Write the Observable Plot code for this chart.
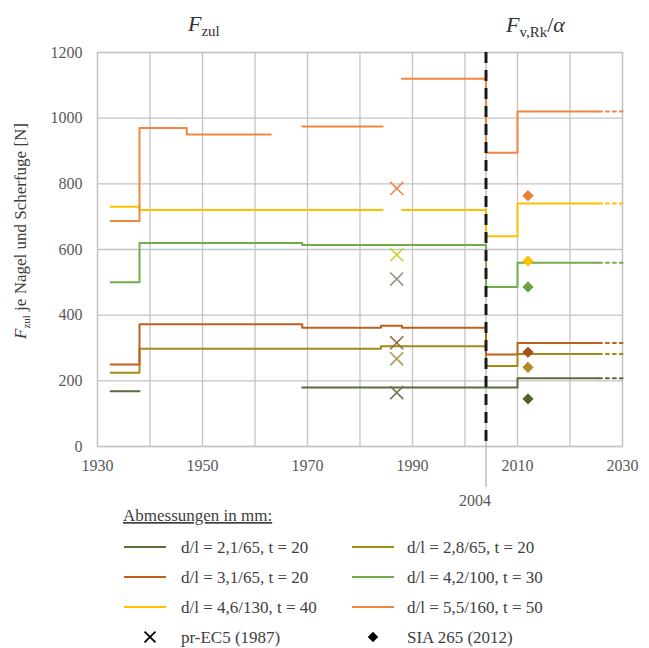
<!DOCTYPE html>
<html><head><meta charset="utf-8">
<script src="https://cdn.jsdelivr.net/npm/d3@7"></script>
<script src="https://cdn.jsdelivr.net/npm/@observablehq/plot@0.6"></script>
<style>
body{margin:0;background:#fff;}
#c{position:relative;width:649px;height:648px;}
#c svg{position:absolute;left:0;}
#c svg, #c svg text{font-family:"Liberation Serif","Times New Roman",Tinos,"DejaVu Serif",serif !important;}
</style>
</head><body><div id="c"></div>
<script>
// ---- data ----
const seriesLabels = ["d/l = 2,1/65, t = 20","d/l = 2,8/65, t = 20","d/l = 3,1/65, t = 20","d/l = 4,2/100, t = 30","d/l = 4,6/130, t = 40","d/l = 5,5/160, t = 50"];
const lineColors = ["#5a6b3c","#a48b12","#c0601e","#72ad48","#ffc000","#f28640"];
// step breakpoints [year, value] (null = gap)
const steps21 = [[1932.5,168],[1938,168],null,[1969,180],[2010,208],[2025.5,208]];
const steps28 = [[1932.5,225],[1938,298],[1984,305],[2004,245],[2010,282],[2025.5,282]];
const steps31 = [[1932.5,250],[1938,372],[1969,362],[1984,368],[1988,362],[2004,280],[2010,315],[2025.5,315]];
const steps42 = [[1932.5,500],[1938,620],[1969,614],[2004,486],[2010,560],[2025.5,560]];
const steps46 = [[1932.5,730],[1938,720],[1984.3,720],null,[1988,720],[2004,640],[2010,740],[2025.5,740]];
const steps55 = [[1932.5,687],[1938,970],[1947,950],[1963,950],null,[1969,975],[1984.3,975],null,[1988,1120],[2004,895],[2010,1020],[2025.5,1020]];
const extendTo = 2030;
const ec5Year = 1987;
const ec5Values = [164, 267, 316, 510, 584, 786];
const ec5Colors = ["#6b7a58","#aa9a52","#8e6642","#8e9a7a","#c8d22c","#f08552"];
const siaYear = 2012;
const siaValues = [145, 241, 287, 486, 565, 764];
const siaColors = ["#4f6230","#b38a22","#a8501a","#6ea044","#ffc000","#f07c30"];
const xTickLabels = [1930,1950,1970,1990,2010,2030];
const xGrid = [1930,1940,1950,1960,1970,1980,1990,2000,2010,2020,2030];
const yTicks = [0,200,400,600,800,1000,1200];
const changeYear = 2004;

// ---- build tables ----
const stepsList = [steps21, steps28, steps31, steps42, steps46, steps55];
const rows = [], ext = [];
stepsList.forEach((pts, i) => {
  pts.forEach(p => rows.push({s: i, year: p ? p[0] : NaN, value: p ? p[1] : NaN}));
  const last = pts[pts.length - 1];
  ext.push({s: i, year: last[0], value: last[1]}, {s: i, year: extendTo, value: last[1]});
});
const ec5 = ec5Values.map((v, i) => ({s: i, year: ec5Year, value: v, c: ec5Colors[i]}));
const sia = siaValues.map((v, i) => ({s: i, year: siaYear, value: v, c: siaColors[i]}));

const serif = '"Liberation Serif", "Times New Roman", Tinos, "DejaVu Serif", serif';
const gridColor = "#c4c4c4";
const chart = Plot.plot({
  width: 649, height: 515,
  marginLeft: 97, marginRight: 27, marginTop: 52, marginBottom: 69,
  style: {fontFamily: serif, fontSize: "16px", background: "#fff"},
  x: {domain: [1930, 2030]},
  y: {domain: [0, 1200]},
  marks: [
    Plot.gridX(xGrid, {stroke: gridColor, strokeOpacity: 1, strokeWidth: 1.3}),
    Plot.gridY(yTicks, {stroke: gridColor, strokeOpacity: 1, strokeWidth: 1.3}),
    Plot.frame({stroke: gridColor, strokeWidth: 1.3}),
    Plot.axisX(xTickLabels, {tickSize: 0, tickPadding: 13, tickFormat: d => String(d), fill: "#595959", fontSize: 16, label: null}),
    Plot.axisY(yTicks, {tickSize: 0, tickPadding: 15, tickFormat: d => String(d), fill: "#595959", fontSize: 16, label: null}),
    Plot.ruleX([changeYear], {stroke: "#a0a0a0", strokeWidth: 1, insetBottom: -41}),
    Plot.line(rows, {x: "year", y: "value", z: "s", stroke: d => lineColors[d.s], curve: "step-after", strokeWidth: 2}),
    Plot.line(ext, {x: "year", y: "value", z: "s", stroke: d => lineColors[d.s], strokeWidth: 2, strokeDasharray: "3,4"}),
    Plot.ruleX([changeYear], {stroke: "#1a1a1a", strokeWidth: 3, strokeDasharray: "11,7"}),
    Plot.dot(ec5, {x: "year", y: "value", symbol: "times", r: 6, stroke: "c", strokeWidth: 1.6}),
    Plot.dot(sia, {x: "year", y: "value", symbol: "diamond2", r: 4.6, fill: "c", stroke: "c", strokeWidth: 1}),
    Plot.text([changeYear], {x: d => d, frameAnchor: "bottom", dy: 54, dx: -11, text: d => String(d), fill: "#595959", fontSize: 16, lineAnchor: "middle"})
  ]
});
chart.style.top = "0px";
document.getElementById("c").appendChild(chart);

// titles & axis label
const svg = d3.select(chart);
const t1 = svg.append("text").attr("x", 188).attr("y", 31).attr("text-anchor", "start").attr("fill", "#333").style("font-size", "22px");
t1.append("tspan").attr("font-style", "italic").text("F");
t1.append("tspan").attr("dy", 5).style("font-size", "15px").text("zul");
const t2 = svg.append("text").attr("x", 506).attr("y", 32).attr("text-anchor", "start").attr("fill", "#333").style("font-size", "22px");
t2.append("tspan").attr("font-style", "italic").text("F");
t2.append("tspan").attr("dy", 5).style("font-size", "15px").text("v,Rk");
t2.append("tspan").attr("dy", -5).text("/");
t2.append("tspan").attr("font-style", "italic").text("α");
const yl = svg.append("text").attr("transform", "translate(26,231) rotate(-90)").attr("text-anchor", "middle").attr("fill", "#404040").style("font-size", "17px");
yl.append("tspan").attr("font-style", "italic").text("F");
yl.append("tspan").attr("dy", 4).style("font-size", "11px").text("zul");
yl.append("tspan").attr("dy", -4).text(" je Nagel und Scherfuge [N]");

// legend
const top0 = 500;
const leg = d3.select("#c").append("svg").attr("width", 649).attr("height", 148).style("top", top0 + "px");
const fs = "17px";
leg.append("text").attr("x", 123).attr("y", 521 - top0).attr("fill", "#404040").style("font-size", fs)
  .style("text-decoration", "underline").text("Abmessungen in mm:");
const cols = [{lx: 124, tx: 181, items: [0, 2, 4]}, {lx: 352, tx: 407, items: [1, 3, 5]}];
const rowY = [547, 577, 607];
cols.forEach(col => col.items.forEach((si, r) => {
  const y = rowY[r] - top0;
  leg.append("line").attr("x1", col.lx).attr("x2", col.lx + 42).attr("y1", y).attr("y2", y)
    .attr("stroke", lineColors[si]).attr("stroke-width", 2);
  leg.append("text").attr("x", col.tx).attr("y", y + 6).attr("fill", "#404040").style("font-size", fs).text(seriesLabels[si]);
}));
const yM = 637 - top0;
leg.append("path").attr("d", d3.symbol(d3.symbolTimes, 80)()).attr("transform", `translate(150,${yM})`).attr("stroke", "#000").attr("stroke-width", 1.8).attr("fill", "none");
leg.append("text").attr("x", 181).attr("y", yM + 6).attr("fill", "#404040").style("font-size", fs).text("pr-EC5 (1987)");
leg.append("path").attr("d", d3.symbol(d3.symbolDiamond2, 70)()).attr("transform", `translate(373,${yM})`).attr("fill", "#000");
leg.append("text").attr("x", 407).attr("y", yM + 6).attr("fill", "#404040").style("font-size", fs).text("SIA 265 (2012)");
</script>
</body></html>
